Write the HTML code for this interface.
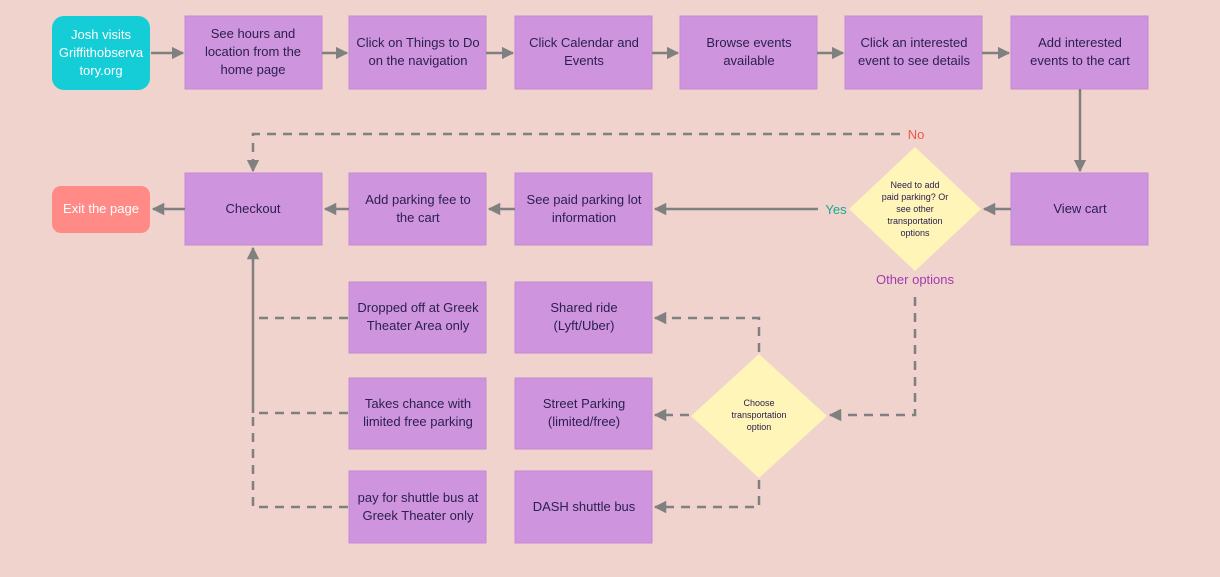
<!DOCTYPE html>
<html><head><meta charset="utf-8"><style>
body{margin:0;background:#efd3cc;}
svg{display:block;font-family:"Liberation Sans",sans-serif;}
.b{fill:#cf94de;stroke:#c58ad6;stroke-width:1}
.t{fill:#2b2050;font-size:13px;text-anchor:middle}
.s{fill:#2b2050;font-size:9px;text-anchor:middle}
.l{stroke:#808080;stroke-width:2.5;fill:none}
.d{stroke:#808080;stroke-width:2.5;fill:none;stroke-dasharray:9 7}
</style></head><body>
<svg width="1220" height="577" viewBox="0 0 1220 577">
<defs><marker id="a" viewBox="0 0 10 10" refX="9" refY="5" markerWidth="5" markerHeight="5" orient="auto"><path d="M0,0L10,5L0,10z" fill="#808080"/></marker></defs>
<rect width="1220" height="577" fill="#efd3cc"/>
<rect x="52" y="16" width="98" height="74" rx="12" fill="#14cdd6"/>
<text fill="#fff" font-size="13" text-anchor="middle"><tspan x="101" y="39">Josh visits</tspan><tspan x="101" y="57">Griffithobserva</tspan><tspan x="101" y="75">tory.org</tspan></text>
<rect class="b" x="185" y="16" width="137" height="73"/>
<text class="t"><tspan x="253" y="38">See hours and</tspan><tspan x="253" y="56">location from the</tspan><tspan x="253" y="74">home page</tspan></text>
<rect class="b" x="349" y="16" width="137" height="73"/>
<text class="t"><tspan x="418" y="47">Click on Things to Do</tspan><tspan x="418" y="65">on the navigation</tspan></text>
<rect class="b" x="515" y="16" width="137" height="73"/>
<text class="t"><tspan x="584" y="47">Click Calendar and</tspan><tspan x="584" y="65">Events</tspan></text>
<rect class="b" x="680" y="16" width="137" height="73"/>
<text class="t"><tspan x="749" y="47">Browse events</tspan><tspan x="749" y="65">available</tspan></text>
<rect class="b" x="845" y="16" width="137" height="73"/>
<text class="t"><tspan x="914" y="47">Click an interested</tspan><tspan x="914" y="65">event to see details</tspan></text>
<rect class="b" x="1011" y="16" width="137" height="73"/>
<text class="t"><tspan x="1080" y="47">Add interested</tspan><tspan x="1080" y="65">events to the cart</tspan></text>
<path class="l" marker-end="url(#a)" d="M151,53H183"/>
<path class="l" marker-end="url(#a)" d="M322,53H347"/>
<path class="l" marker-end="url(#a)" d="M486,53H513"/>
<path class="l" marker-end="url(#a)" d="M652,53H678"/>
<path class="l" marker-end="url(#a)" d="M817,53H843"/>
<path class="l" marker-end="url(#a)" d="M982,53H1009"/>
<path class="l" marker-end="url(#a)" d="M1080,89V171"/>
<rect x="52" y="186" width="98" height="47" rx="9" fill="#ff8a86"/>
<text x="101" y="213" fill="#fff" font-size="13" text-anchor="middle">Exit the page</text>
<rect class="b" x="185" y="173" width="137" height="72"/>
<text class="t" x="253" y="213">Checkout</text>
<rect class="b" x="349" y="173" width="137" height="72"/>
<text class="t"><tspan x="418" y="204">Add parking fee to</tspan><tspan x="418" y="222">the cart</tspan></text>
<rect class="b" x="515" y="173" width="137" height="72"/>
<text class="t"><tspan x="584" y="204">See paid parking lot</tspan><tspan x="584" y="222">information</tspan></text>
<rect class="b" x="1011" y="173" width="137" height="72"/>
<text class="t" x="1080" y="213">View cart</text>
<polygon points="915,147 981,209 915,271 849,209" fill="#fff5b8"/>
<text class="s"><tspan x="915" y="188">Need to add</tspan><tspan x="915" y="200">paid parking? Or</tspan><tspan x="915" y="212">see other</tspan><tspan x="915" y="224">transportation</tspan><tspan x="915" y="236">options</tspan></text>
<path class="l" marker-end="url(#a)" d="M1011,209H984"/>
<path class="l" marker-end="url(#a)" d="M818,209H655"/>
<text x="836" y="214" fill="#1aa890" font-size="13" text-anchor="middle">Yes</text>
<path class="l" marker-end="url(#a)" d="M515,209H489"/>
<path class="l" marker-end="url(#a)" d="M349,209H325"/>
<path class="l" marker-end="url(#a)" d="M185,209H153"/>
<path class="d" d="M900,134H253V165"/>
<path class="l" marker-end="url(#a)" d="M253,160V171"/>
<text x="916" y="139" fill="#f0584a" font-size="13" text-anchor="middle">No</text>
<text x="915" y="284" fill="#a23bb0" font-size="13" text-anchor="middle">Other options</text>
<path class="d" d="M915,297V415H840"/>
<path class="l" marker-end="url(#a)" d="M840,415H830"/>
<rect class="b" x="349" y="282" width="137" height="71"/>
<text class="t"><tspan x="418" y="312">Dropped off at Greek</tspan><tspan x="418" y="330">Theater Area only</tspan></text>
<rect class="b" x="515" y="282" width="137" height="71"/>
<text class="t"><tspan x="584" y="312">Shared ride</tspan><tspan x="584" y="330">(Lyft/Uber)</tspan></text>
<rect class="b" x="349" y="378" width="137" height="71"/>
<text class="t"><tspan x="418" y="408">Takes chance with</tspan><tspan x="418" y="426">limited free parking</tspan></text>
<rect class="b" x="515" y="378" width="137" height="71"/>
<text class="t"><tspan x="584" y="408">Street Parking</tspan><tspan x="584" y="426">(limited/free)</tspan></text>
<rect class="b" x="349" y="471" width="137" height="72"/>
<text class="t"><tspan x="418" y="502">pay for shuttle bus at</tspan><tspan x="418" y="520">Greek Theater only</tspan></text>
<rect class="b" x="515" y="471" width="137" height="72"/>
<text class="t" x="584" y="511">DASH shuttle bus</text>
<polygon points="759,354 827,416 759,478 691,416" fill="#fff5b8"/>
<text class="s"><tspan x="759" y="406">Choose</tspan><tspan x="759" y="418">transportation</tspan><tspan x="759" y="430">option</tspan></text>
<path class="d" d="M759,352V318H664"/>
<path class="l" marker-end="url(#a)" d="M666,318H655"/>
<path class="d" d="M689,415H664"/>
<path class="l" marker-end="url(#a)" d="M666,415H655"/>
<path class="d" d="M759,480V507H664"/>
<path class="l" marker-end="url(#a)" d="M666,507H655"/>
<path class="d" d="M348,318H253"/>
<path class="d" d="M348,413H253"/>
<path class="d" d="M348,507H253V413"/>
<path class="l" marker-end="url(#a)" d="M253,413V248"/>
</svg>
</body></html>
